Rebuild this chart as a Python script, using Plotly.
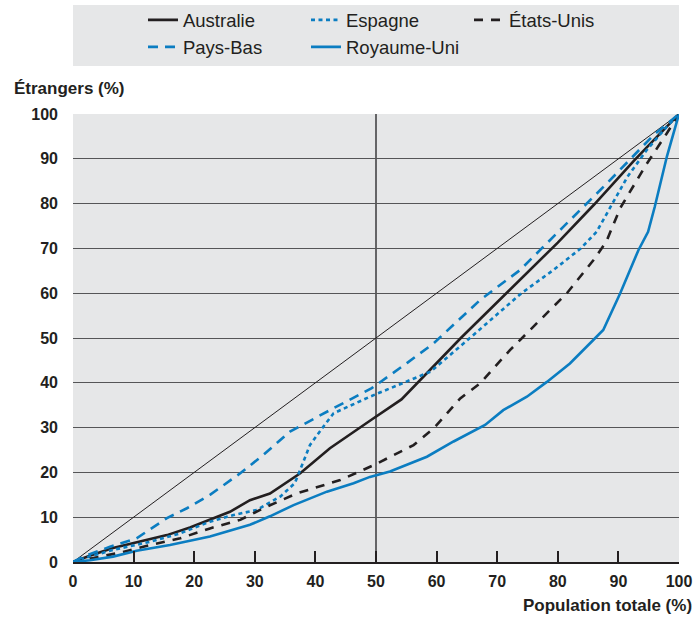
import plotly.graph_objects as go

# Cumulative share of total population (x) vs. cumulative share of foreigners (y)
equal_x = [0, 100]
equal_y = [0, 100]

australie_x = [0, 3, 6.6, 10.5, 15.5, 19.3, 22.6, 25.9, 29.2, 32.5, 37.5, 42.4, 49.3, 54.2, 64, 74, 80, 86, 92.5, 100]
australie_y = [0, 1.5, 3.1, 4.3, 6.0, 7.7, 9.4, 11.2, 13.8, 15.3, 19.8, 25.4, 31.8, 36.3, 50, 63.2, 71.3, 79.8, 89.5, 100]

espagne_x = [0, 1.7, 6.6, 12.7, 17.7, 22.6, 26.5, 30.3, 34.2, 36.6, 37.7, 39.1, 41.3, 43, 49, 54.5, 59, 65.5, 74, 79.3, 83.8, 86.4, 88.8, 91.5, 94.7, 98, 100]
espagne_y = [0, 0.8, 2.7, 4.5, 6.4, 9, 10.5, 11.6, 14.6, 17.6, 21.3, 26.1, 30.2, 33.2, 36.9, 39.9, 42.5, 50, 60, 65.2, 70, 73.7, 79.5, 86, 92, 97.2, 100]

etats_unis_x = [0, 2.8, 7.8, 12.7, 17.7, 22.6, 27.6, 31.4, 36.9, 44.1, 49.6, 56.2, 59.5, 63.9, 67.2, 72.1, 73.8, 81.5, 85.9, 88, 90.3, 94.5, 98, 100]
etats_unis_y = [0, 0.8, 2.1, 3.8, 5.3, 7.5, 9.4, 12, 15.3, 18.3, 21.6, 26.1, 29.8, 36.5, 39.9, 47.3, 49.6, 60, 67.4, 71.5, 79, 88.5, 95.7, 100]

pays_bas_x = [0, 1.7, 6.1, 10.5, 15.5, 18.8, 22.6, 27.6, 31.4, 35.8, 42.4, 49.3, 55.1, 59.5, 67.2, 73.8, 80.9, 88.1, 95.8, 100]
pays_bas_y = [0, 1.2, 3.4, 5.3, 9.8, 12, 15, 19.8, 23.9, 29.1, 33.9, 38.8, 44.4, 48.8, 58.5, 65.2, 74.8, 84.5, 95.3, 100]

royaume_uni_x = [0, 2.8, 6.6, 10.5, 16, 22.6, 29.2, 32.5, 36.4, 41.9, 46.3, 49, 52.3, 58.4, 62.8, 68, 71, 74.9, 78.2, 82, 85.9, 87.5, 90.3, 93.3, 94.9, 96, 98, 100]
royaume_uni_y = [0, 0.4, 1.2, 2.5, 3.8, 5.7, 8.3, 10.2, 12.7, 15.7, 17.6, 19, 20.2, 23.5, 26.9, 30.6, 33.9, 36.9, 40.2, 44.3, 49.6, 51.8, 60, 69.6, 73.7, 79.3, 90.5, 100]

y_ticks = [0, 10, 20, 30, 40, 50, 60, 70, 80, 90, 100]
x_ticks = [0, 10, 20, 30, 40, 50, 60, 70, 80, 90, 100]

BLUE = "#0b7dc1"
BLACK = "#231f20"
BG = "#e6e7e8"
FONT = "Liberation Sans"

series = [
    ("Australie", australie_x, australie_y, BLACK, "solid"),
    ("Espagne", espagne_x, espagne_y, BLUE, "4px,3.5px"),
    ("États-Unis", etats_unis_x, etats_unis_y, BLACK, "9px,8px"),
    ("Pays-Bas", pays_bas_x, pays_bas_y, BLUE, "10px,7px"),
    ("Royaume-Uni", royaume_uni_x, royaume_uni_y, BLUE, "solid"),
]

fig = go.Figure()

# Line of perfect equality
fig.add_trace(go.Scatter(
    x=equal_x, y=equal_y, mode="lines",
    line=dict(color=BLACK, width=1), showlegend=False, hoverinfo="skip",
))

for name, xs, ys, color, dash in series:
    fig.add_trace(go.Scatter(
        x=xs, y=ys, mode="lines", name=name,
        line=dict(color=color, width=2.6, dash=dash),
    ))

fig.update_layout(
    width=693, height=617,
    margin=dict(l=73, r=14, t=114, b=55, autoexpand=False),
    paper_bgcolor="white",
    plot_bgcolor=BG,
    font=dict(family=FONT, color=BLACK),
    legend=dict(
        orientation="h",
        x=0.1155, xanchor="left",
        y=1.2515, yanchor="top",
        entrywidth=118,
        bgcolor="rgba(0,0,0,0)",
        font=dict(size=18.5, color=BLACK),
        traceorder="normal",
    ),
    shapes=[
        # legend panel
        dict(type="rect", xref="paper", yref="paper",
             x0=0, x1=1, y0=1.1071, y1=1.2433,
             fillcolor=BG, line=dict(width=0), layer="below"),
        # 50 % reference line
        dict(type="line", xref="x", yref="paper",
             x0=50, x1=50, y0=0, y1=1,
             line=dict(color="#3a3a3c", width=1.5), layer="below"),
    ],
    annotations=[
        dict(text="<b>Étrangers (%)</b>", xref="paper", yref="paper",
             x=-0.1007, y=1.058, xanchor="left", yanchor="middle",
             showarrow=False, font=dict(size=17, color=BLACK)),
        dict(text="<b>Population totale (%)</b>", xref="paper", yref="paper",
             x=1.0245, y=-0.0982, xanchor="right", yanchor="middle",
             showarrow=False, font=dict(size=17, color=BLACK)),
    ],
)

fig.update_xaxes(
    range=[0, 100], tickvals=x_ticks, ticktext=[str(v) for v in x_ticks],
    showgrid=False, zeroline=False,
    showline=True, linecolor=BLACK, linewidth=2,
    ticks="inside", ticklen=11, tickwidth=1.5, tickcolor=BLACK,
    ticklabelstandoff=4,
    tickfont=dict(size=16, weight="bold", color=BLACK),
)
fig.update_yaxes(
    range=[0, 100], tickvals=y_ticks, ticktext=[str(v) for v in y_ticks],
    showgrid=True, gridcolor="#555557", gridwidth=1,
    zeroline=False, showline=False, ticks="",
    ticklabelstandoff=14,
    tickfont=dict(size=16, weight="bold", color=BLACK),
)

fig.write_html("out.html")
